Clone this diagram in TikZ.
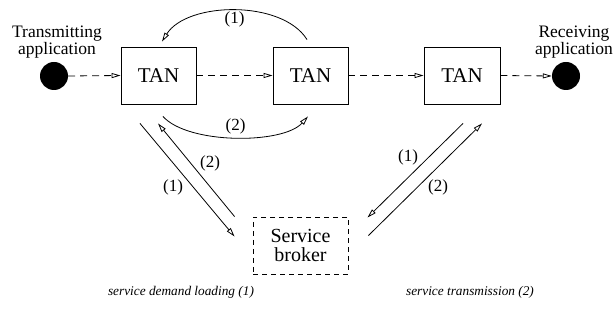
\documentclass[tikz,border=0pt]{standalone}
\usepackage{fontspec}
\setmainfont{Liberation Serif}
\usetikzlibrary{arrows.meta}

\tikzset{
  tanbox/.style={draw, line width=0.9pt, minimum width=75pt, minimum height=57pt,
    inner sep=0pt, font=\fontsize{21}{23}\selectfont},
  brokerbox/.style={draw, dashed, dash pattern=on 5pt off 4pt, line width=0.9pt,
    minimum width=95pt, minimum height=57pt, inner sep=0pt, align=center,
    font=\fontsize{20}{19}\selectfont},
  appdot/.style={circle, fill=black, minimum size=28pt, inner sep=0pt},
  applabel/.style={align=center, inner sep=0pt, font=\fontsize{17.5}{15}\selectfont},
  flow/.style={line width=0.8pt, dash pattern=on 7pt off 5pt,
    -{Triangle[open, length=9pt, width=5pt]}},
  msg/.style={line width=0.8pt, -{Triangle[open, length=9pt, width=5pt]}},
  num/.style={inner sep=0pt, font=\fontsize{17}{17}\selectfont},
  caption/.style={inner sep=0pt, font=\fontsize{13.3}{15}\selectfont\itshape}
}

\begin{document}
\begin{tikzpicture}[x=1pt, y=-1pt]
  \useasboundingbox (0,0) rectangle (614,320);

  % applications and transfer nodes
  \node[appdot] (tx) at (54,76) {};
  \node[appdot] (rx) at (566,76) {};
  \node[applabel] (txlabel) at (57,42) {Transmitting\\application};
  \node[applabel] (rxlabel) at (574,42) {Receiving\\application};

  \node[tanbox] (tan1) at (158.5,75.5) {TAN};
  \node[tanbox] (tan2) at (310.5,75.5) {TAN};
  \node[tanbox, minimum width=76pt] (tan3) at (462,75.5) {TAN};

  \node[brokerbox] (broker) at (300.5,245.5) {Service\\broker};

  % data path
  \draw[flow] (tx.east) -- (tan1.west);
  \draw[flow] (tan1.east) -- (tan2.west);
  \draw[flow] (tan2.east) -- (tan3.west);
  \draw[flow] (tan3.east) -- (rx.west);

  % exchanges between neighbouring TANs
  \draw[msg] ([xshift=-3.5pt, yshift=7pt]tan2.north)
    .. controls +(-25,-40) and +(25,-40) .. ([xshift=3.5pt, yshift=5pt]tan1.north)
    node[num, pos=0.5, yshift=-9pt] (arcone) {(1)};
  \draw[msg] ([xshift=4.5pt, yshift=-12pt]tan1.south)
    .. controls +(25,28) and +(-25,28) .. ([xshift=-2.5pt, yshift=-12pt]tan2.south)
    node[num, pos=0.5, yshift=11pt] (arctwo) {(2)};

  % exchanges with the service broker
  \draw[msg] ([xshift=-18.5pt, yshift=-19pt]tan1.south)
    -- ([xshift=-18pt, yshift=-20pt]broker.north west);
  \draw[msg] ([xshift=-18pt]broker.north west)
    -- ([xshift=-0.5pt, yshift=-19pt]tan1.south);
  \node[num] (lone) at (173,187) {(1)};
  \node[num] (ltwo) at (210,163) {(2)};

  \draw[msg] ([xshift=1pt, yshift=-19pt]tan3.south)
    -- ([xshift=19pt, yshift=-1pt]broker.north east);
  \draw[msg] ([xshift=20pt, yshift=-19pt]broker.north east)
    -- ([xshift=20pt, yshift=-19pt]tan3.south);
  \node[num] (rone) at (408,157) {(1)};
  \node[num] (rtwo) at (438,187) {(2)};

  % phase captions
  \node[caption] (capone) at (181,292) {service demand loading (1)};
  \node[caption] (captwo) at (470,292) {service transmission (2)};
\end{tikzpicture}
\end{document}
